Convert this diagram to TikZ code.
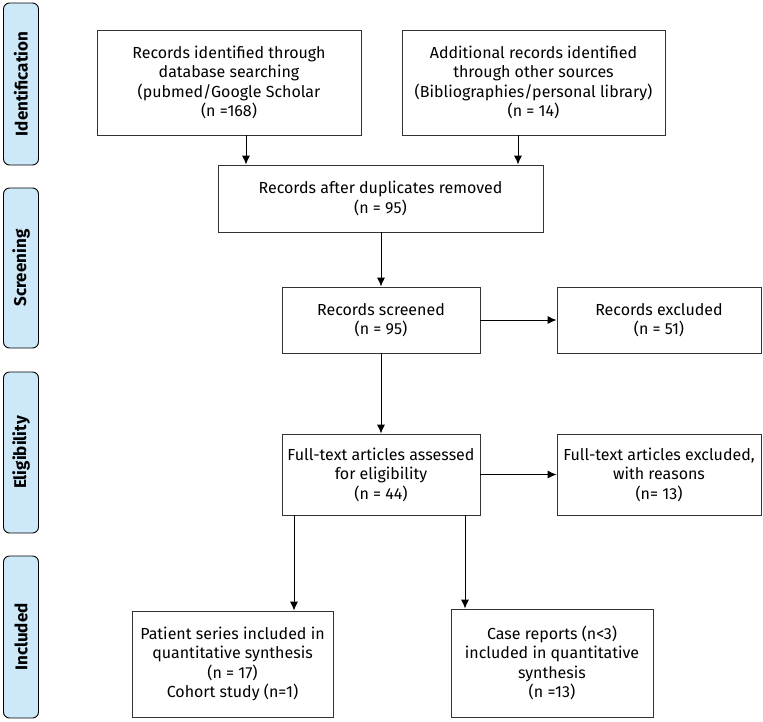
\documentclass[tikz,border=0pt]{standalone}
\usepackage{fontspec}
\setmainfont{Fira Sans}
\usetikzlibrary{arrows.meta}
\definecolor{tabblue}{HTML}{CDE8F8}
\definecolor{linegray}{HTML}{333333}
\begin{document}
\begin{tikzpicture}[x=1pt,y=-1pt,
  box/.style={draw=linegray,line width=0.9pt,align=center,inner sep=0pt,font=\fontsize{16}{19.5}\selectfont},
  tab/.style={draw=black,line width=0.9pt,fill=tabblue,rounded corners=6pt,inner sep=0pt,
     minimum width=35pt},
  tablabel/.style={rotate=90,font=\fontsize{17}{19}\selectfont\bfseries},
  arr/.style={draw=black,line width=0.9pt,-{Latex[length=9pt,width=8pt]}}]
\useasboundingbox (0,0) rectangle (763,721);
% phase tabs
\node[tab,minimum height=162pt] (t1) at (21,84) {};
\node[tablabel] (t1l) at (t1.center) {Identification};
\node[tab,minimum height=160pt] (t2) at (21,268) {};
\node[tablabel] (t2l) at (t2.center) {Screening};
\node[tab,minimum height=161pt] (t3) at (21,452.5) {};
\node[tablabel] (t3l) at (t3.center) {Eligibility};
\node[tab,minimum height=162pt] (t4) at (21,637) {};
\node[tablabel] (t4l) at (t4.center) {Included};
% boxes
\node[box,minimum width=264pt,minimum height=105pt] (b1) at (229,82.5)
  {Records identified through\\database searching\\(pubmed/Google Scholar\\(n =168)};
\node[box,minimum width=263pt,minimum height=105pt] (b2) at (533.5,82.5)
  {Additional records identified\\through other sources\\(Bibliographies/personal library)\\(n = 14)};
\node[box,minimum width=325pt,minimum height=67pt] (b3) at (380.5,198.5)
  {Records after duplicates removed\\(n = 95)};
\node[box,minimum width=198pt,minimum height=66pt] (b4) at (381,320)
  {Records screened\\(n = 95)};
\node[box,minimum width=204pt,minimum height=66pt] (b5) at (659,320)
  {Records excluded\\(n = 51)};
\node[box,minimum width=198pt,minimum height=81pt] (b6) at (381,474.5)
  {Full-text articles assessed\\for eligibility\\(n = 44)};
\node[box,minimum width=204pt,minimum height=81pt] (b7) at (659,474.5)
  {Full-text articles excluded,\\with reasons\\(n= 13)};
\node[box,minimum width=201pt,minimum height=106pt] (b8) at (232.5,664)
  {Patient series included in\\quantitative synthesis\\(n = 17)\\Cohort study (n=1)};
\node[box,minimum width=202pt,minimum height=108pt] (b9) at (552,663)
  {Case reports (n<3)\\included in quantitative\\synthesis\\(n =13)};
% connector x positions
\coordinate (xa) at (246,0);
\coordinate (xb) at (518,0);
\coordinate (xc) at (294,0);
\coordinate (xd) at (465,0);
\draw[arr] (b1.south -| xa) -- (b3.north -| xa);
\draw[arr] (b2.south -| xb) -- (b3.north -| xb);
\draw[arr] (b3.south -| b4.north) -- (b4.north);
\draw[arr] (b4.east) -- (b5.west);
\draw[arr] (b4.south) -- (b6.north);
\draw[arr] (b6.east) -- (b7.west);
\draw[arr] (b6.south -| xc) -- (b8.north -| xc);
\draw[arr] (b6.south -| xd) -- (b9.north -| xd);
\end{tikzpicture}
\end{document}
